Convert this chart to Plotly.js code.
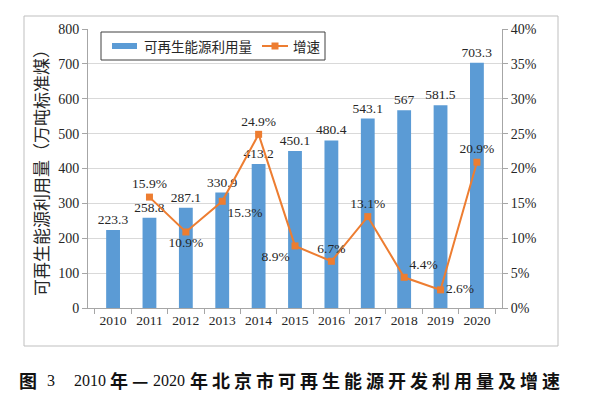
<!DOCTYPE html>
<html>
<head>
<meta charset="utf-8">
<script src="https://cdn.plot.ly/plotly-3.0.1.min.js"></script>
<style>html,body{margin:0;padding:0;background:#fff;}#chart{width:597px;height:399px;}</style>
</head>
<body>
<div id="chart"></div>
<script>
var years = ['2010','2011','2012','2013','2014','2015','2016','2017','2018','2019','2020'];
var usage = [223.3, 258.8, 287.1, 330.9, 413.2, 450.1, 480.4, 543.1, 567, 581.5, 703.3];
var growth = [null, 15.9, 10.9, 15.3, 24.9, 8.9, 6.7, 13.1, 4.4, 2.6, 20.9];
var growthLabelPos = [null, 'top center', 'bottom center', 'bottom right', 'top center', 'bottom left', 'top center', 'top center', 'top right', 'middle right', 'top center'];
var usageName = '可再生能源利用量';
var growthName = '增速';
var yTitle = '可再生能源利用量（万吨标准煤）';
var captionParts = ['图', '3', '2010', '年—', '2020', '年北京市可再生能源开发利用量及增速'];

var serif = '"Liberation Serif", "Times New Roman", serif';
var cjk = '"Noto Sans CJK SC", sans-serif';
var blue = '#5B9BD5', orange = '#ED7D31';

var bars = {
  type: 'bar', x: years, y: usage, name: usageName,
  marker: {color: blue},
  text: usage.map(function(v){return String(v);}),
  textposition: 'outside', cliponaxis: false, constraintext: 'none',
  textfont: {family: serif, size: 13.5, color: '#262626'},
  hoverinfo: 'skip'
};
var line = {
  type: 'scatter', mode: 'lines+markers+text', x: years, y: growth, name: growthName,
  yaxis: 'y2',
  line: {color: orange, width: 2},
  marker: {color: orange, symbol: 'square', size: 7},
  text: growth.map(function(v){return v === null ? '' : v.toFixed(1) + '%';}),
  textposition: growthLabelPos, cliponaxis: false,
  textfont: {family: serif, size: 13.5, color: '#262626'},
  connectgaps: false, hoverinfo: 'skip'
};

function px2x(p){ return (p - 88) / 414; }
function px2y(p){ return (308 - p) / 279; }

var legY = px2y(46);
var shapes = [
  {type:'rect', xref:'paper', yref:'paper', x0:px2x(24), x1:px2x(558), y0:px2y(346), y1:px2y(16), line:{color:'#BFBFBF', width:1}, layer:'below'},
  {type:'rect', xref:'paper', yref:'paper', x0:px2x(101), x1:px2x(325), y0:px2y(60), y1:px2y(32), line:{color:'#404040', width:1}, fillcolor:'#fff'},
  {type:'rect', xref:'paper', yref:'paper', x0:px2x(112), x1:px2x(137), y0:px2y(49), y1:px2y(43), line:{width:0}, fillcolor:blue},
  {type:'line', xref:'paper', yref:'paper', x0:px2x(262), x1:px2x(288), y0:legY, y1:legY, line:{color:orange, width:2}},
  {type:'rect', xref:'paper', yref:'paper', x0:px2x(271.5), x1:px2x(278.5), y0:px2y(49.5), y1:px2y(42.5), line:{width:0}, fillcolor:orange}
];

var capY = px2y(380);
var capFont = {family: cjk, size: 18, color: '#111'};
var digFont = {family: serif, size: 16, color: '#111'};
var ls = 'letter-spacing:4px';
var annotations = [
  {xref:'paper', yref:'paper', x:px2x(142), y:legY, xanchor:'left', yanchor:'middle', showarrow:false, text:usageName, font:{family:cjk, size:13.5, color:'#262626'}},
  {xref:'paper', yref:'paper', x:px2x(291), y:legY, xanchor:'left', yanchor:'middle', showarrow:false, text:growthName, font:{family:cjk, size:13.5, color:'#262626'}},
  {xref:'paper', yref:'paper', x:px2x(17), y:capY, xanchor:'left', yanchor:'middle', showarrow:false, text:'<b>'+captionParts[0]+'</b>', font:capFont},
  {xref:'paper', yref:'paper', x:px2x(45), y:capY, xanchor:'left', yanchor:'middle', showarrow:false, text:captionParts[1], font:digFont},
  {xref:'paper', yref:'paper', x:px2x(72), y:capY, xanchor:'left', yanchor:'middle', showarrow:false, text:captionParts[2], font:digFont},
  {xref:'paper', yref:'paper', x:px2x(108), y:capY, xanchor:'left', yanchor:'middle', showarrow:false, text:'<b><span style="'+ls+'">'+captionParts[3]+'</span></b>', font:capFont},
  {xref:'paper', yref:'paper', x:px2x(151), y:capY, xanchor:'left', yanchor:'middle', showarrow:false, text:captionParts[4], font:digFont},
  {xref:'paper', yref:'paper', x:px2x(188), y:capY, xanchor:'left', yanchor:'middle', showarrow:false, text:'<b><span style="'+ls+'">'+captionParts[5]+'</span></b>', font:capFont}
];

var layout = {
  width: 597, height: 399,
  margin: {l: 88, r: 95, t: 29, b: 91, pad: 0},
  paper_bgcolor: '#fff', plot_bgcolor: '#fff',
  showlegend: false,
  bargap: 0.62,
  font: {family: serif, size: 13, color: '#262626'},
  xaxis: {
    type: 'category', tickson: 'boundaries', ticks: 'outside', ticklen: 5, tickcolor: '#A6A6A6',
    showline: true, linecolor: '#A6A6A6', linewidth: 1, showgrid: false,
    tickfont: {family: serif, size: 13.5, color: '#262626'}
  },
  yaxis: {
    range: [0, 800], dtick: 100, ticks: 'outside', ticklen: 5, tickcolor: '#A6A6A6',
    showline: true, linecolor: '#A6A6A6', gridcolor: '#D9D9D9', zeroline: false,
    tickfont: {family: serif, size: 14, color: '#262626'},
    title: {text: yTitle, font: {family: cjk, size: 17, color: '#262626'}, standoff: 5}
  },
  yaxis2: {
    overlaying: 'y', side: 'right', range: [0, 40], dtick: 5, ticksuffix: '%',
    ticks: 'outside', ticklen: 5, tickcolor: '#A6A6A6',
    showline: true, linecolor: '#A6A6A6', showgrid: false, zeroline: false,
    tickfont: {family: serif, size: 14, color: '#262626'}
  },
  shapes: shapes,
  annotations: annotations
};

Plotly.newPlot('chart', [bars, line], layout, {displayModeBar: false, staticPlot: true});
</script>
</body>
</html>
